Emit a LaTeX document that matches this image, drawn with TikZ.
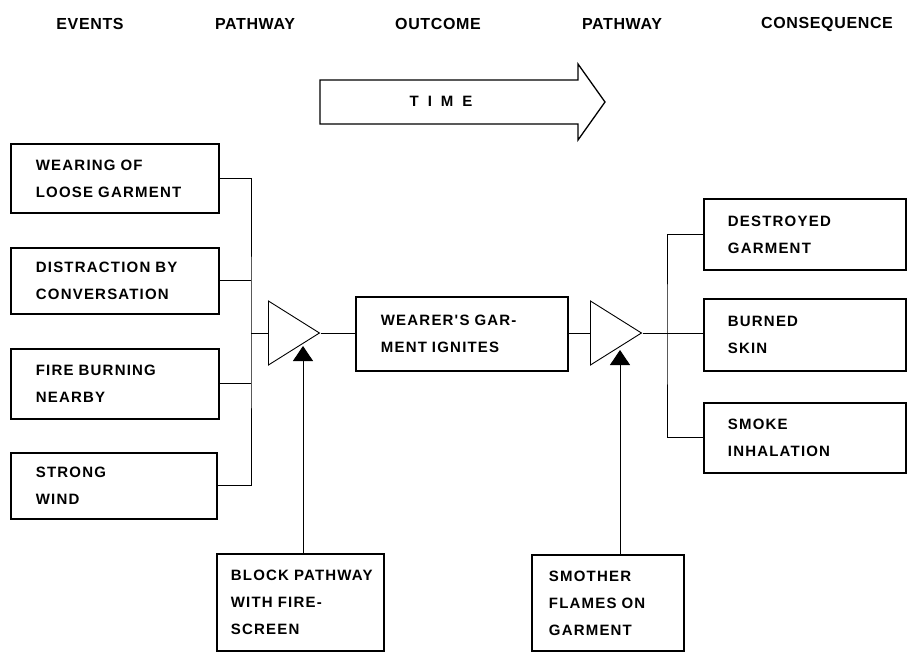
\documentclass[tikz,border=0pt]{standalone}
\usepackage{fontspec}
\setmainfont{Liberation Sans}
\newfontfamily\spacedfont[LetterSpace=8]{Liberation Sans}
\newfontfamily\headfont[LetterSpace=4]{Liberation Sans}
\usetikzlibrary{
    shapes.geometric,
    arrows.meta,
    positioning,
    calc
}
\newcommand{\boxfont}{\spacedfont\bfseries\fontsize{15}{27}\selectfont}

\begin{document}
\begin{tikzpicture}[x=1pt, y=-1pt,
    evbox/.style={draw, line width=1.8pt, anchor=north west, align=left,
                  inner ysep=0pt, font=\boxfont},
    head/.style={font=\headfont\bfseries\fontsize{16}{18}\selectfont},
    gate/.style={draw, line width=0.9pt, isosceles triangle, isosceles triangle stretches,
                 inner sep=0pt, minimum width=64pt, minimum height=51pt, anchor=lower side},
    link/.style={draw, line width=1pt},
    block/.style={draw, line width=1pt, -{Triangle[length=15pt, width=20pt]}}]
    \useasboundingbox (0,0) rectangle (911,653);

    % Column headings
    \node[head] (hev)  at (90,24)  {EVENTS};
    \node[head] (hpw1) at (255,24) {PATHWAY};
    \node[head] (hout) at (438,24) {OUTCOME};
    \node[head] (hpw2) at (622,24) {PATHWAY};
    \node[head] (hcon) at (827,24) {CONSEQUENCE};

    % Time arrow
    \draw[line width=1.3pt] (320,80) -- (578,80) -- (578,64) -- (605,102) -- (578,140)
        -- (578,124) -- (320,124) -- cycle;
    \node[font=\bfseries\fontsize{15}{17}\selectfont] (time) at (441,101)
        {T\hspace{9pt}I\hspace{9pt}M\hspace{9pt}E};

    % Events
    \node[evbox, inner xsep=25pt, text width=158pt, minimum height=69pt] (loose) at (10,143)
        {WEARING OF\\LOOSE GARMENT};
    \node[evbox, inner xsep=25pt, text width=158pt, minimum height=66pt] (talk) at (10,247)
        {DISTRACTION BY\\CONVERSATION};
    \node[evbox, inner xsep=25pt, text width=158pt, minimum height=70pt] (fire) at (10,348)
        {FIRE BURNING\\NEARBY};
    \node[evbox, inner xsep=25pt, text width=156pt, minimum height=66pt] (wind) at (10,452)
        {STRONG\\WIND};

    % Pathways and outcome
    \node[gate] (gate1) at (268,333) {};
    \node[evbox, inner xsep=25pt, text width=162pt, minimum height=74pt] (ignite) at (355,296)
        {WEARER'S GAR-\\MENT IGNITES};
    \node[gate] (gate2) at (590,333) {};

    % Consequences
    \node[evbox, inner xsep=24pt, text width=154pt, minimum height=71pt] (destroy) at (703,198)
        {DESTROYED\\GARMENT};
    \node[evbox, inner xsep=24pt, text width=154pt, minimum height=72pt] (skin) at (703,298)
        {BURNED\\SKIN};
    \node[evbox, inner xsep=24pt, text width=154pt, minimum height=70pt] (smoke) at (703,402)
        {SMOKE\\INHALATION};

    % Countermeasures
    \node[evbox, inner xsep=14pt, text width=139pt, minimum height=97pt] (screen) at (216,553)
        {\mbox{BLOCK PATHWAY}\\WITH FIRE-\\SCREEN};
    \node[evbox, inner xsep=17pt, text width=118pt, minimum height=96pt] (smother) at (531,554)
        {SMOTHER\\\mbox{FLAMES ON}\\GARMENT};

    % Connectors
    \coordinate (busl) at (251,333);
    \coordinate (busr) at (667,333);
    \coordinate (stop1) at (303,346);
    \coordinate (stop2) at (620,350);
    \draw[link] (loose.east) -| (busl) |- (wind.east);
    \draw[link] (talk.east) -- (talk.east -| busl);
    \draw[link] (fire.east) -- (fire.east -| busl);
    \draw[link] (busl) -- (gate1.lower side);
    \draw[link] (gate1.apex) -- (ignite.west |- gate1.apex);
    \draw[link] (ignite.east |- gate2.lower side) -- (gate2.lower side);
    \draw[link] (gate2.apex) -- (skin.west |- gate2.apex);
    \draw[link] (destroy.west) -| (busr) |- (smoke.west);
    \draw[block] (stop1 |- screen.north) -- (stop1);
    \draw[block] (stop2 |- smother.north) -- (stop2);
\end{tikzpicture}
\end{document}
